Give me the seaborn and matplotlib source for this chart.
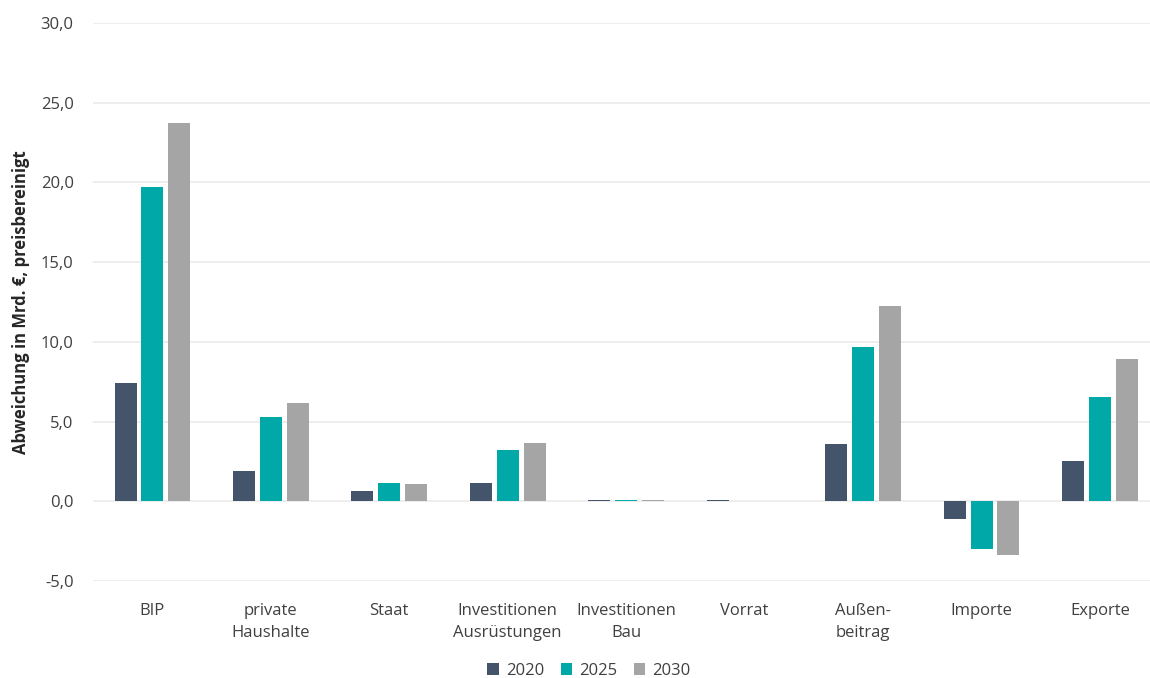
import pandas as pd
import matplotlib
matplotlib.use("Agg")
import matplotlib.pyplot as plt
import seaborn as sns

# --- data ---
categories = ["BIP", "private\nHaushalte", "Staat", "Investitionen\nAusrüstungen",
              "Investitionen\nBau", "Vorrat", "Außen-\nbeitrag", "Importe", "Exporte"]
years = ["2020", "2025", "2030"]
v2020 = [7.45, 1.88, 0.63, 1.13, 0.08, 0.08, 3.57, -1.13, 2.50]
v2025 = [19.7, 5.30, 1.13, 3.20, 0.08, 0.0, 9.65, -3.00, 6.57]
v2030 = [23.7, 6.15, 1.07, 3.63, 0.08, 0.0, 12.27, -3.38, 8.90]
colors = ["#44546A", "#00A8A8", "#A5A5A5"]

rows = []
for year, vals in zip(years, [v2020, v2025, v2030]):
    for cat, v in zip(categories, vals):
        rows.append({"Kategorie": cat, "Jahr": year, "Wert": v})
df = pd.DataFrame(rows)

sns.set_style("white")
plt.rcParams["font.family"] = ["Open Sans", "DejaVu Sans"]

fig = plt.figure(figsize=(11.5, 6.78), dpi=100)
ax = fig.add_axes([0.081, 0.143, 0.927, 0.823])

sns.barplot(data=df, x="Kategorie", y="Wert", hue="Jahr", palette=colors,
            saturation=1, width=0.68, gap=0.18, linewidth=0, ax=ax, zorder=3)

ax.set_ylim(-5, 30)
ax.set_xlim(-0.5, 8.5)
ax.set_yticks(range(-5, 31, 5))
ax.set_yticklabels([f"{t:.1f}".replace(".", ",") for t in range(-5, 31, 5)],
                   fontsize=12, color="#404040")
ax.yaxis.grid(True, color="#EBEBEB", linewidth=1.2, zorder=0)
ax.set_axisbelow(True)
for s in ax.spines.values():
    s.set_visible(False)
ax.tick_params(axis="both", length=0, pad=14)
ax.tick_params(axis="x", pad=16)
plt.setp(ax.get_xticklabels(), fontsize=12, color="#404040", linespacing=1.5)
ax.set_xlabel("")
ax.set_ylabel("Abweichung in Mrd. €, preisbereinigt", fontsize=12,
              fontweight="bold", color="#262626", labelpad=8)

handles, labels = ax.get_legend_handles_labels()
ax.legend(handles, labels, loc="upper center", bbox_to_anchor=(0.465, -0.12),
          ncol=3, frameon=False, fontsize=12, handlelength=0.7, handleheight=0.7,
          columnspacing=1.0, handletextpad=0.4, labelcolor="#404040")

fig.savefig("out.png", dpi=100)
